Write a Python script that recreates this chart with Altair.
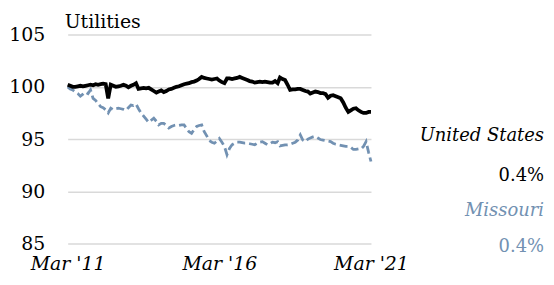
import altair as alt
import pandas as pd

months = pd.date_range("2011-03-01", periods=121, freq="MS")

us = [
    100.2, 100.1, 100.0, 100.0, 100.05, 100.1, 100.05, 100.1, 100.15, 100.2, 100.15,
    100.25, 100.2, 100.25, 100.3, 100.25, 98.9, 100.2, 100.1, 100.0, 100.05,
    100.1, 100.2, 100.1, 99.95, 100.1, 100.2, 100.35, 99.8, 99.85, 99.9,
    99.85, 99.9, 99.75, 99.6, 99.45, 99.55, 99.65, 99.5, 99.6, 99.75,
    99.8, 99.9, 100.0, 100.05, 100.15, 100.25, 100.3, 100.35, 100.45, 100.5,
    100.6, 100.75, 100.95, 100.85, 100.8, 100.75, 100.7, 100.75, 100.8, 100.6,
    100.45, 100.35, 100.8, 100.8, 100.75, 100.8, 100.85, 100.95, 100.85, 100.75,
    100.65, 100.55, 100.5, 100.4, 100.45, 100.5, 100.45, 100.5, 100.45, 100.4,
    100.4, 100.55, 100.35, 100.9, 100.75, 100.65, 100.2, 99.7, 99.75, 99.75,
    99.8, 99.8, 99.7, 99.6, 99.55, 99.35, 99.45, 99.55, 99.5, 99.4,
    99.4, 99.3, 98.95, 99.15, 99.2, 99.1, 99.0, 98.9, 98.5, 98.0,
    97.6, 97.75, 97.9, 97.95, 97.75, 97.6, 97.5, 97.5, 97.6, 97.6,
]

missouri = [
    100.0, 99.8, 99.7, 99.5, 99.35, 99.1, 99.3, 99.5, 99.35, 99.7, 98.9,
    98.7, 98.4, 98.1, 98.0, 97.8, 97.5, 97.95, 97.8, 97.9, 97.95,
    97.9, 97.85, 97.75, 98.0, 98.25, 98.2, 98.35, 97.9, 97.5, 97.2,
    96.9, 96.6, 96.8, 97.0, 96.7, 96.35, 96.5, 96.5, 96.3, 96.05,
    96.2, 96.3, 96.35, 96.3, 96.35, 96.35, 96.0, 95.7, 95.55, 95.9,
    96.2, 96.3, 96.35, 95.7, 95.3, 94.85, 94.7, 94.6, 94.8, 95.05,
    94.7, 94.3, 93.5, 94.1, 94.45, 94.6, 94.7, 94.7, 94.65, 94.6,
    94.6, 94.55, 94.5, 94.45, 94.6, 94.7, 94.75, 94.6, 94.45, 94.55,
    94.7, 94.65, 94.75, 94.35, 94.4, 94.45, 94.45, 94.5, 94.6, 94.7,
    94.9, 95.4, 94.9, 94.75, 95.0, 95.1, 95.2, 95.25, 95.1, 94.95,
    94.9, 94.85, 94.8, 94.75, 94.6, 94.5, 94.45, 94.4, 94.35, 94.3,
    94.3, 94.2, 94.0, 94.0, 94.05, 94.05, 94.3, 94.75, 93.7, 92.85,
]

y_ticks = [85, 90, 95, 100, 105]
x_ticks = ["2011-03-01", "2016-03-01", "2021-03-01"]
legend_names = ["United States", "Missouri"]
legend_changes = ["0.4%", "0.4%"]
title_text = "Utilities"

US_COLOR = "#000000"
MO_COLOR = "#7291b2"
FONT = "DejaVu Serif"

df = pd.DataFrame({"date": months, "United States": us, "Missouri": missouri})

x_enc = alt.X(
    "date:T",
    scale=alt.Scale(domain=["2011-03-01", "2021-03-01"], nice=False),
    axis=alt.Axis(
        values=[pd.Timestamp(v).isoformat() for v in x_ticks],
        labelExpr="timeFormat(datum.value, \"%b '%y\")",
        title=None, grid=False, domain=False, ticks=False,
        labelFont=FONT, labelFontSize=19, labelFontStyle="italic",
        labelColor="#000000", labelPadding=11, labelFlush=False,
        labelOverlap=False,
    ),
)
y_scale = alt.Scale(domain=[85, 105], nice=False, zero=False)
y_axis = alt.Axis(
    values=y_ticks, title=None, domain=False, ticks=False,
    labelFont=FONT, labelFontSize=19, labelColor="#000000",
    labelPadding=23, gridColor="#d9d9d9", gridWidth=1.5,
)

mo_line = alt.Chart(df).mark_line(
    color=MO_COLOR, strokeWidth=2.8, strokeDash=[8, 4]
).encode(x=x_enc, y=alt.Y("Missouri:Q", scale=y_scale, axis=y_axis))

us_line = alt.Chart(df).mark_line(
    color=US_COLOR, strokeWidth=3.8
).encode(x=x_enc, y=alt.Y("United States:Q", scale=y_scale, axis=y_axis))

title = alt.Chart(pd.DataFrame({"t": [title_text]})).mark_text(
    font=FONT, fontSize=19, align="left", baseline="alphabetic", color="#000000"
).encode(text="t:N", x=alt.value(-3), y=alt.value(-7))

leg_df = pd.DataFrame({
    "label": [legend_names[0], legend_changes[0], legend_names[1], legend_changes[1]],
    "ypos": [136, 176, 211, 248],
    "kind": ["us", "us", "mo", "mo"],
    "style": ["italic", "normal", "italic", "normal"],
})
leg_df["ypx"] = leg_df["ypos"] - 34

def leg_text(i):
    row = leg_df.iloc[[i]]
    return alt.Chart(row).mark_text(
        font=FONT, fontSize=18, align="right", baseline="middle",
        fontStyle=row["style"].iloc[0],
        color=US_COLOR if row["kind"].iloc[0] == "us" else MO_COLOR,
    ).encode(text="label:N", x=alt.value(547 - 68), y=alt.value(float(row["ypx"].iloc[0])))

chart = alt.layer(
    mo_line, us_line, title, *[leg_text(i) for i in range(4)]
).properties(
    width=305, height=210,
    autosize=alt.AutoSizeParams(type="none"),
    padding={"left": 60, "top": 26, "right": 176, "bottom": 40},
).configure_view(stroke=None)

chart.save("out.html", embed_options={"renderer": "svg", "actions": False})
